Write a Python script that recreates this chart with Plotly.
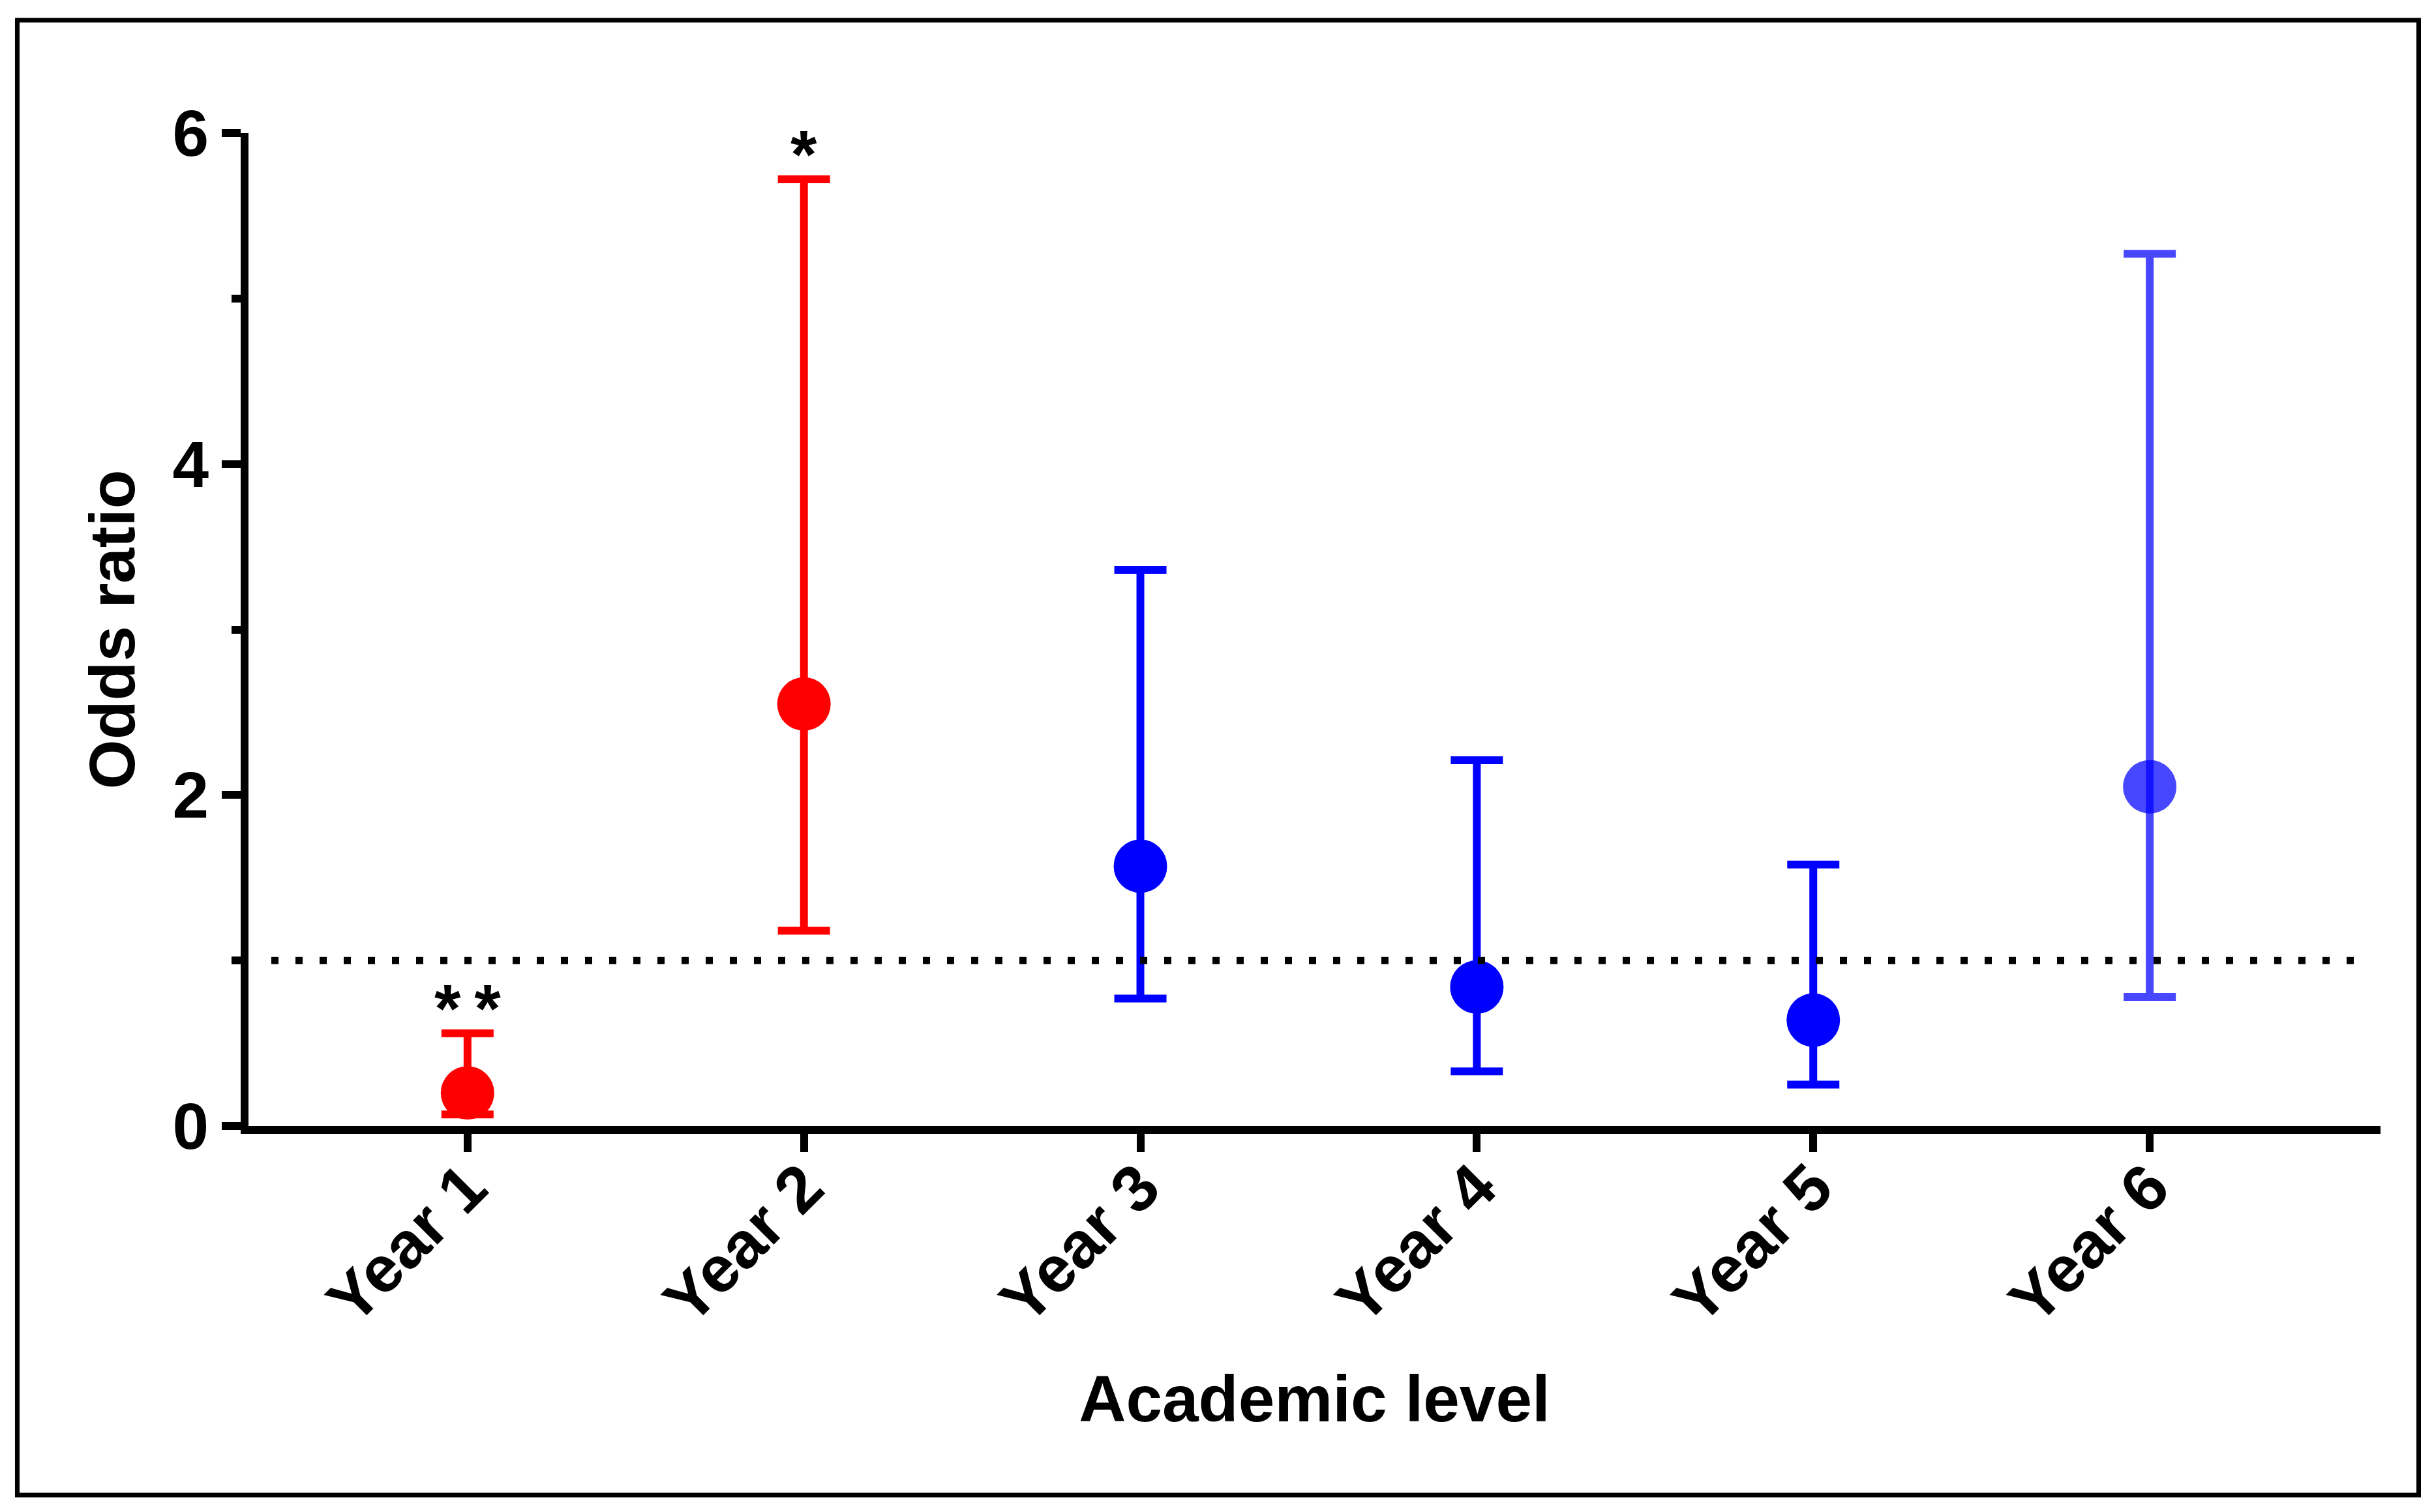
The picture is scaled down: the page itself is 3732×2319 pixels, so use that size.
import plotly.graph_objects as go

# ---------------- data ----------------
categories = ["Year 1", "Year 2", "Year 3", "Year 4", "Year 5", "Year 6"]
odds_ratio = [0.20, 2.55, 1.57, 0.84, 0.64, 2.05]
ci_lower = [0.07, 1.18, 0.77, 0.33, 0.25, 0.78]
ci_upper = [0.56, 5.72, 3.36, 2.21, 1.58, 5.27]
significance = ["*\u2009*", "*", "", "", "", ""]
reference_level = 1.0
y_tick_values = [0, 2, 4, 6]
y_minor_values = [1, 3, 5]

# ---------------- style ----------------
PAGE_W, PAGE_H = 3732, 2319
OFF = 8  # default body margin of the html page
W, H = PAGE_W - OFF, PAGE_H - OFF
# plot area in page pixels
PL, PR, PT, PB = 381, 3650, 204, 1727
ML, MR, MT, MB = PL - OFF, PAGE_W - PR, PT - OFF, PAGE_H - PB
point_colors = ["#FF0000", "#FF0000", "#0000FF", "#0000FF", "#0000FF", "rgba(0,0,255,0.72)"]
FONT = "Liberation Sans, Arial, Helvetica, sans-serif"

fig = go.Figure()
for i, cat in enumerate(categories):
    fig.add_trace(go.Scatter(
        x=[cat], y=[odds_ratio[i]],
        mode="markers",
        marker=dict(size=82, color=point_colors[i], line=dict(width=0)),
        error_y=dict(type="data", symmetric=False,
                     array=[ci_upper[i] - odds_ratio[i]],
                     arrayminus=[odds_ratio[i] - ci_lower[i]],
                     color=point_colors[i], thickness=12, width=40),
        showlegend=False, cliponaxis=False,
    ))

# significance stars
for i, s in enumerate(significance):
    if s:
        fig.add_annotation(x=categories[i], y=ci_upper[i], text=s, showarrow=False,
                           yanchor="middle", yshift=38,
                           font=dict(family=FONT, size=104, color="black", weight="bold"))

pw = PR - PL
ph = PB - PT

# reference dotted line
fig.add_shape(type="line", xref="paper", yref="y",
              x0=(416 - PL) / pw, x1=(3627 - PL) / pw,
              y0=reference_level, y1=reference_level,
              line=dict(color="black", width=11, dash="11px,26px"))

# outer frame
fig.add_shape(type="rect", xref="paper", yref="paper",
              x0=(26.5 - PL) / pw, x1=(3708.5 - PL) / pw,
              y0=(PB - 2293) / ph, y1=(PB - 31) / ph,
              line=dict(color="black", width=7), fillcolor="rgba(0,0,0,0)")

fig.update_layout(
    width=W, height=H,
    margin=dict(l=ML, r=MR, t=MT, b=MB),
    paper_bgcolor="white", plot_bgcolor="white",
    font=dict(family=FONT, color="black"),
    xaxis=dict(
        type="category", categoryorder="array", categoryarray=categories,
        range=[-0.651, 5.686],
        showline=True, linecolor="black", linewidth=12,
        ticks="outside", ticklen=28, tickwidth=12, tickcolor="black",
        tickangle=-45, showgrid=False, zeroline=False, ticklabelstandoff=-45,
        tickfont=dict(family=FONT, size=100, weight="bold"),
        title=dict(text="Academic level", standoff=65,
                   font=dict(family=FONT, size=100, weight="bold")),
    ),
    yaxis=dict(
        range=[0, 6], tickvals=y_tick_values,
        showline=True, linecolor="black", linewidth=12,
        ticks="outside", ticklen=29, tickwidth=12, tickcolor="black",
        minor=dict(tickvals=y_minor_values, ticks="outside", ticklen=14,
                   tickwidth=12, tickcolor="black", showgrid=False),
        showgrid=False, zeroline=False,
        tickfont=dict(family=FONT, size=100, weight="bold"),
        title=dict(text="Odds ratio", standoff=30,
                   font=dict(family=FONT, size=98, weight="bold")),
    ),
)

fig.write_html("out.html")
